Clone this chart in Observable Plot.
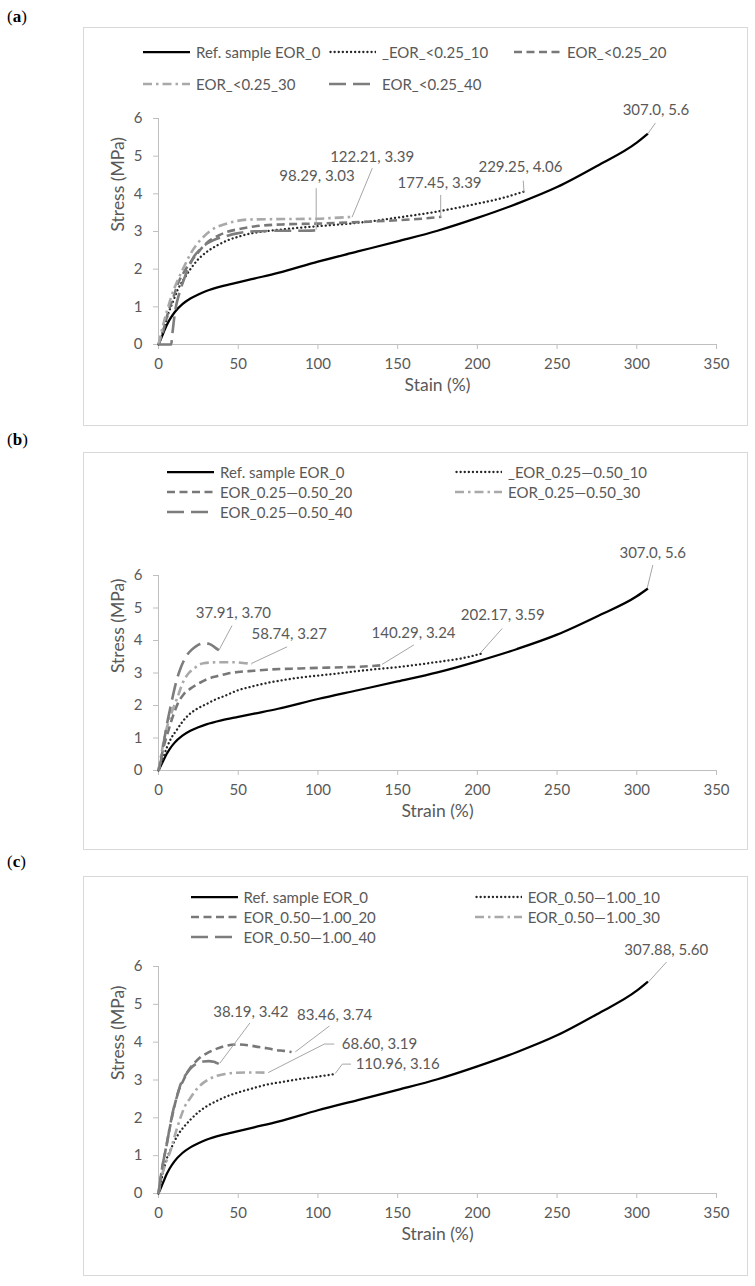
<!DOCTYPE html>
<html><head><meta charset="utf-8">
<script src="https://cdn.jsdelivr.net/npm/d3@7"></script>
<script src="https://cdn.jsdelivr.net/npm/@observablehq/plot@0.6"></script>
<style>
html,body{margin:0;padding:0;background:#fff;overflow:hidden;}
#page{position:relative;width:755px;height:1286px;font-family:Lato,"Open Sans",sans-serif;color:#595959;}
.box{position:absolute;border:1px solid #d9d9d9;box-sizing:border-box;}
.plab{position:absolute;font-family:"Liberation Serif","DejaVu Serif",serif;font-size:17px;color:#000;line-height:20px;}
.leg{position:absolute;height:20px;display:flex;align-items:center;font-size:15px;white-space:nowrap;color:#595959;}
.leg svg{margin-right:6px;display:block;}
.plotwrap{position:absolute;left:0;}
</style></head><body><div id="page"></div>
<script>
// ---------- data ----------
const xTicks = [0, 50, 100, 150, 200, 250, 300, 350];
const yTicks = [0, 1, 2, 3, 4, 5, 6];
const yTitle = "Stress (MPa)";

// reference sample (same in all panels): [strain %, stress MPa]
const refCurve = [[0,0],[1,0.1],[3,0.3],[5,0.5],[7,0.66],[10,0.85],[15,1.07],[20,1.22],[25,1.33],[30,1.42],[40,1.55],[50,1.65],[60,1.75],[75,1.9],[100,2.2],[125,2.47],[150,2.74],[175,3.02],[200,3.36],[225,3.74],[250,4.18],[275,4.74],[300,5.36],[307,5.6]];

// panel (a)
const legendA = ["Ref. sample EOR_0", "_EOR_<0.25_10", "EOR_<0.25_20", "EOR_<0.25_30", "EOR_<0.25_40"];
const a10 = [[0,0],[3,0.37],[6,0.8],[9.4,1.17],[12,1.45],[15.7,1.72],[20,2.0],[24,2.22],[30,2.45],[36.7,2.63],[43,2.76],[50,2.86],[57,2.94],[64,2.99],[78.6,3.06],[99.6,3.14],[120,3.21],[133,3.27],[150,3.37],[175,3.53],[200,3.74],[215,3.88],[229.25,4.06]];
const a20 = [[0,0],[3,0.37],[6,0.85],[9.4,1.26],[12,1.6],[15.7,1.9],[20,2.18],[24,2.4],[28,2.6],[32.5,2.77],[38,2.9],[43,2.99],[50,3.06],[57.7,3.12],[78.6,3.19],[99.6,3.21],[120,3.24],[150,3.3],[165,3.34],[177.45,3.39]];
const a30 = [[0,0],[3.1,0.55],[7.3,1.17],[10,1.5],[13.6,1.85],[17,2.15],[20,2.4],[24,2.66],[28.3,2.86],[32,3.0],[36.7,3.12],[42,3.2],[47,3.26],[57.7,3.32],[78.6,3.33],[99.6,3.34],[110,3.36],[122.21,3.39]];
const a40 = [[0,0],[8,0],[8.5,0.2],[10.5,0.9],[13,1.35],[15.7,1.7],[19,2.05],[22,2.32],[26,2.52],[30.4,2.68],[35,2.78],[40.9,2.86],[49.3,2.95],[57.7,3.0],[78.6,3.02],[90,3.02],[98.29,3.03]];
const notesA = [
  {text:"307.0, 5.6", x:312, y:6.21},
  {text:"229.25, 4.06", x:227, y:4.72},
  {text:"177.45, 3.39", x:176.3, y:4.27},
  {text:"122.21, 3.39", x:134, y:4.98},
  {text:"98.29, 3.03", x:99.4, y:4.47}
];
const leadersA = [
  [[311.5,5.87],[307,5.6]],
  [[228.8,4.34],[229.25,4.06]],
  [[177,3.96],[177,3.39]],
  [[134,4.67],[121.5,3.39]],
  [[98.9,4.14],[98.9,3.06]]
];

// panel (b)
const legendB = ["Ref. sample EOR_0", "_EOR_0.25\u20140.50_10", "EOR_0.25\u20140.50_20", "EOR_0.25\u20140.50_30", "EOR_0.25\u20140.50_40"];
const b10 = [[0,0],[2,0.25],[5.2,0.7],[8,1.0],[11.5,1.25],[15,1.5],[19.8,1.75],[25,1.92],[30.3,2.05],[35,2.17],[40.7,2.28],[50,2.47],[60,2.6],[67.8,2.69],[78,2.78],[88.7,2.86],[100,2.92],[109.6,2.97],[120,3.03],[132.6,3.1],[150,3.18],[175,3.34],[190,3.45],[202.17,3.59]];
const b20 = [[0,0],[3.1,0.7],[6,1.2],[9.4,1.72],[12,2.05],[15.7,2.34],[20,2.52],[26,2.7],[31,2.82],[36.5,2.9],[43,2.98],[49.9,3.03],[60,3.07],[67.8,3.1],[88.7,3.14],[109.6,3.17],[125,3.19],[140.29,3.24]];
const b30 = [[0,0],[2.5,0.7],[5.2,1.31],[8,1.75],[11.5,2.2],[15.7,2.75],[19,3.0],[21.9,3.12],[25,3.24],[28.2,3.3],[36.5,3.33],[47,3.33],[53,3.31],[58.74,3.28]];
const b40 = [[0,0],[1.5,0.3],[3.1,0.8],[5,1.35],[7.3,1.9],[9.5,2.4],[11.5,2.8],[13.5,3.1],[15.7,3.36],[18,3.56],[20.9,3.72],[23.5,3.82],[26.1,3.89],[29.2,3.92],[31.5,3.9],[33.4,3.86],[35.5,3.78],[37.91,3.7]];
const notesB = [
  {text:"307.0, 5.6", x:310, y:6.69},
  {text:"202.17, 3.59", x:215.9, y:4.77},
  {text:"140.29, 3.24", x:160, y:4.21},
  {text:"58.74, 3.27", x:82, y:4.19},
  {text:"37.91, 3.70", x:47, y:4.84}
];
const leadersB = [
  [[310,6.31],[306.6,5.62]],
  [[215.4,4.36],[202,3.62]],
  [[160,3.86],[140.4,3.27]],
  [[80.4,3.8],[58.6,3.3]],
  [[46,4.45],[37.9,3.7]]
];

// panel (c)
const legendC = ["Ref. sample EOR_0", "EOR_0.50\u20141.00_10", "EOR_0.50\u20141.00_20", "EOR_0.50\u20141.00_30", "EOR_0.50\u20141.00_40"];
const c10 = [[0,0],[1.5,0.3],[3.1,0.6],[5,0.9],[7.3,1.13],[10,1.38],[12.5,1.57],[15.7,1.75],[20,1.95],[26.2,2.19],[30,2.3],[36.7,2.45],[43,2.57],[50,2.67],[60,2.79],[68,2.88],[78,2.95],[89,3.03],[100,3.09],[110.96,3.16]];
const c20 = [[0,0],[2,0.6],[4,1.05],[6,1.5],[9.4,2.2],[12.5,2.7],[15.7,3.0],[18,3.2],[19.9,3.32],[23,3.47],[26.2,3.6],[30,3.7],[36.7,3.83],[42,3.9],[49.3,3.94],[57.7,3.91],[63,3.87],[68,3.84],[74,3.79],[78.6,3.77],[83.46,3.74]];
const c30 = [[0,0],[2,0.45],[4.5,0.8],[7.3,1.1],[10,1.5],[13.6,1.98],[16.5,2.3],[19.9,2.52],[24,2.76],[28.3,2.93],[32,3.03],[36.7,3.11],[42,3.16],[47.2,3.19],[57.7,3.2],[63,3.2],[68.6,3.19]];
const c40 = [[0,0],[2,0.6],[3.5,0.95],[5.2,1.3],[7.5,1.85],[9.5,2.25],[11.5,2.55],[14,2.9],[16.5,3.1],[17.8,3.18],[20,3.3],[22,3.38],[25,3.45],[28.3,3.49],[31.5,3.5],[34.6,3.48],[36.5,3.45],[38.19,3.42]];
const notesC = [
  {text:"307.88, 5.60", x:318.5, y:6.43},
  {text:"38.19, 3.42", x:57.9, y:4.78},
  {text:"83.46, 3.74", x:110.5, y:4.72},
  {text:"68.60, 3.19", x:138.6, y:3.95},
  {text:"110.96, 3.16", x:150, y:3.42}
];
const leadersC = [
  [[318.5,6.11],[307.5,5.6]],
  [[57.2,4.5],[38.6,3.45]],
  [[107,4.42],[86,3.75]],
  [[110,3.95],[104,3.95],[69,3.2]],
  [[120.5,3.42],[115.3,3.42],[111,3.18]]
];

// ---------- styles ----------
const lineStyles = [
  {stroke:"#000000", strokeWidth:2.25, dash:null, cap:"butt"},
  {stroke:"#262626", strokeWidth:2.3, dash:"0.1,4", cap:"round"},
  {stroke:"#787878", strokeWidth:2.6, dash:"8,4.5", cap:"butt"},
  {stroke:"#a9a9a9", strokeWidth:2.6, dash:"9,4,2.5,4", cap:"butt"},
  {stroke:"#7d7d7d", strokeWidth:2.6, dash:"17,7", cap:"butt"}
];
const textColor = "#595959";
const axisColor = "#bfbfbf";
const leaderColor = "#a6a6a6";

const panels = [
  {label:"(a)", labelY:7, boxTop:27, boxBottom:426, svgTop:28, mt:90, h:397, mb:81, xTitle:"Stain (%)",
   names:legendA, curves:[refCurve,a10,a20,a30,a40], notes:notesA, leaders:leadersA,
   cols:[143,329,514], rows:[52,84], perRow:3},
  {label:"(b)", labelY:430, boxTop:452, boxBottom:850, svgTop:453, mt:122, h:396, mb:79, xTitle:"Strain (%)",
   names:legendB, curves:[refCurve,b10,b20,b30,b40], notes:notesB, leaders:leadersB,
   cols:[167,455], rows:[472,492,512], perRow:2},
  {label:"(c)", labelY:852, boxTop:876, boxBottom:1276, svgTop:877, mt:89, h:398, mb:82, xTitle:"Strain (%)",
   names:legendC, curves:[refCurve,c10,c20,c30,c40], notes:notesC, leaders:leadersC,
   cols:[190.6,474.7], rows:[897,917,937], perRow:2}
];

const page = document.getElementById("page");
const hasAxisMarks = typeof Plot.axisX === "function";

function swatch(st) {
  const ns = "http://www.w3.org/2000/svg";
  const s = document.createElementNS(ns, "svg");
  s.setAttribute("width", 47); s.setAttribute("height", 10);
  const l = document.createElementNS(ns, "line");
  l.setAttribute("x1", st.cap === "round" ? 1.5 : 0); l.setAttribute("x2", 47);
  l.setAttribute("y1", 5); l.setAttribute("y2", 5);
  l.setAttribute("stroke", st.stroke);
  l.setAttribute("stroke-width", st.strokeWidth);
  l.setAttribute("stroke-linecap", st.cap);
  if (st.dash) l.setAttribute("stroke-dasharray", st.dash);
  s.appendChild(l);
  return s;
}

for (const p of panels) {
  const box = document.createElement("div");
  box.className = "box";
  Object.assign(box.style, {left:"83px", top:p.boxTop+"px", width:"665px", height:(p.boxBottom-p.boxTop)+"px"});
  page.appendChild(box);

  const lab = document.createElement("div");
  lab.className = "plab";
  lab.style.left = "7px"; lab.style.top = p.labelY + "px";
  lab.innerHTML = "(<b>" + p.label.slice(1, -1) + "</b>)";
  page.appendChild(lab);

  const leaderPts = [];
  p.leaders.forEach((seg, i) => seg.forEach(([x, y]) => leaderPts.push({id:i, x, y})));

  const marks = [
    Plot.ruleY([0], {stroke: axisColor, strokeWidth: 1}),
    Plot.ruleX([0], {stroke: axisColor, strokeWidth: 1})
  ];
  if (hasAxisMarks) {
    marks.push(
      Plot.axisX(xTicks, {tickSize:5, tickPadding:9, stroke:axisColor, fill:textColor, fontSize:15, label:null}),
      Plot.axisY(yTicks, {tickSize:5, tickPadding:11, stroke:axisColor, fill:textColor, fontSize:15, label:null})
    );
  }
  p.curves.forEach((c, i) => {
    const st = lineStyles[i];
    marks.push(Plot.line(c, {x: d => d[0], y: d => d[1], stroke: st.stroke, strokeWidth: st.strokeWidth,
      strokeDasharray: st.dash || undefined, strokeLinecap: st.cap, curve: "monotone-x"}));
  });
  marks.push(
    Plot.line(leaderPts, {x:"x", y:"y", z:"id", stroke: leaderColor, strokeWidth: 1, curve: "linear"}),
    Plot.text(p.notes, {x:"x", y:"y", text:"text", fill: textColor, fontSize: 15}),
    Plot.text([p.xTitle], {frameAnchor:"bottom", dy:46, fill:textColor, fontSize:17.5}),
    Plot.text([yTitle], {frameAnchor:"left", dx:-40, rotate:-90, fill:textColor, fontSize:17.5})
  );

  const opts = {
    width: 755, height: p.h,
    marginLeft: 158, marginRight: 39, marginTop: p.mt, marginBottom: p.mb,
    x: {domain: [0, 350]},
    y: {domain: [0, 6]},
    style: {fontFamily: "Lato, 'Open Sans', sans-serif", fontSize: "15px", background: "transparent", overflow: "visible", color: textColor},
    marks
  };
  if (!hasAxisMarks) {
    opts.x = {domain:[0,350], ticks:xTicks, tickSize:5, tickPadding:9, label:null};
    opts.y = {domain:[0,6], ticks:yTicks, tickSize:5, tickPadding:11, label:null};
  }
  const svg = Plot.plot(opts);
  const wrap = document.createElement("div");
  wrap.className = "plotwrap";
  wrap.style.top = p.svgTop + "px";
  wrap.appendChild(svg);
  page.appendChild(wrap);

  p.names.forEach((name, i) => {
    const item = document.createElement("div");
    item.className = "leg";
    item.style.left = p.cols[i % p.perRow] + "px";
    item.style.top = (p.rows[Math.floor(i / p.perRow)] - 10) + "px";
    item.appendChild(swatch(lineStyles[i]));
    const t = document.createElement("span");
    t.textContent = name;
    item.appendChild(t);
    page.appendChild(item);
  });
}
</script></body></html>
